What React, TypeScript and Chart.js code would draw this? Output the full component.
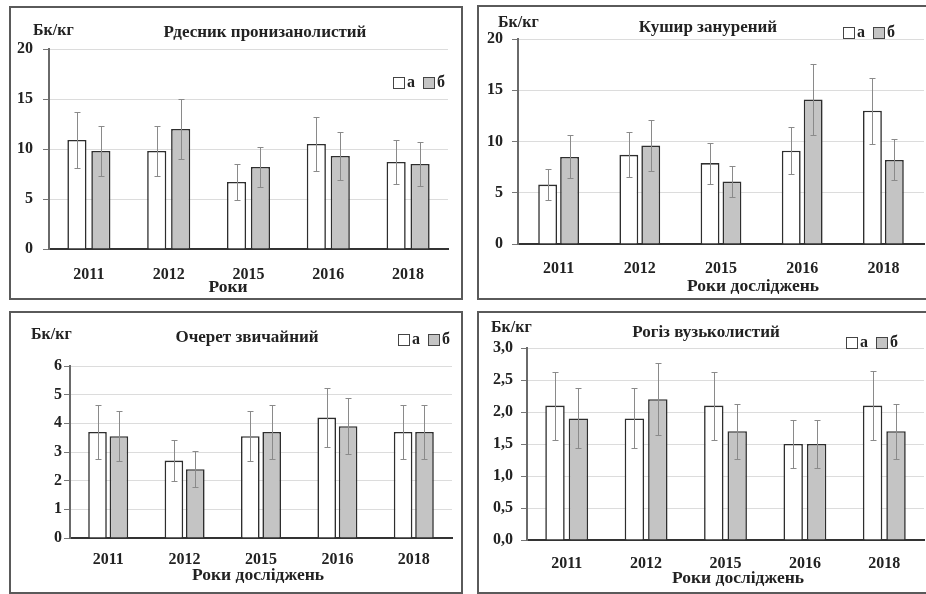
import { useEffect, useRef } from 'react';
import { Chart, registerables } from 'chart.js';

Chart.register(...registerables);

// ---------- DATA ----------
const years = ['2011', '2012', '2015', '2016', '2018'];
const seriesLabels = ['а', 'б'];

const rdesnykA = [10.9, 9.8, 6.7, 10.5, 8.7];
const rdesnykAErr = [2.8, 2.5, 1.8, 2.7, 2.2];
const rdesnykB = [9.8, 12.0, 8.2, 9.3, 8.5];
const rdesnykBErr = [2.5, 3.0, 2.0, 2.4, 2.2];

const kushyrA = [5.8, 8.7, 7.9, 9.1, 13.0];
const kushyrAErr = [1.5, 2.2, 2.0, 2.3, 3.2];
const kushyrB = [8.5, 9.6, 6.1, 14.1, 8.2];
const kushyrBErr = [2.1, 2.45, 1.5, 3.5, 2.0];

const ocheretA = [3.7, 2.7, 3.55, 4.2, 3.7];
const ocheretAErr = [0.93, 0.71, 0.87, 1.03, 0.93];
const ocheretB = [3.55, 2.4, 3.7, 3.9, 3.7];
const ocheretBErr = [0.87, 0.62, 0.93, 0.98, 0.93];

const rogizA = [2.1, 1.9, 2.1, 1.5, 2.1];
const rogizAErr = [0.53, 0.47, 0.53, 0.38, 0.54];
const rogizB = [1.9, 2.2, 1.7, 1.5, 1.7];
const rogizBErr = [0.47, 0.56, 0.43, 0.38, 0.43];

const titles = ['Рдесник пронизанолистий', 'Кушир занурений', 'Очерет звичайний', 'Рогіз вузьколистий'];
const unitLabel = 'Бк/кг';
const xTitles = ['Роки', 'Роки досліджень', 'Роки досліджень', 'Роки досліджень'];
const yMaxes = [20, 20, 6, 3];
const ySteps = [5, 5, 1, 0.5];

// ---------- STYLE / LAYOUT ----------
const FAM = "'Liberation Serif', 'Times New Roman', serif";
const W = 926;
const H = 594;
const WHITE = '#ffffff';
const GRAY = '#c4c4c4';
const EDGE = '#2e2e2e';

type Layout = {
  area: { L: number; T: number; R: number; B: number };
  frame: { left: number; top: number; width: number; height: number };
  cat: number;
  bar: number;
  yPad: number;
  xPad: number;
  title: { x: number; y: number };
  unit: { x: number; y: number };
  legend: { x: number; y: number };
  xTitle: { x: number; y: number };
  comma: boolean;
};

const layouts: Layout[] = [
  {
    area: { L: 49, T: 49, R: 448, B: 249 },
    frame: { left: 9, top: 6, width: 454, height: 294 },
    cat: 0.6, bar: 0.8, yPad: 10, xPad: 16,
    title: { x: 265, y: 33 }, unit: { x: 33, y: 31 }, legend: { x: 393, y: 83 },
    xTitle: { x: 228, y: 287 }, comma: false,
  },
  {
    area: { L: 518, T: 39, R: 924, B: 244 },
    frame: { left: 477, top: 5, width: 452, height: 295 },
    cat: 0.54, bar: 0.86, yPad: 9, xPad: 15,
    title: { x: 708, y: 28 }, unit: { x: 498, y: 23 }, legend: { x: 843, y: 33 },
    xTitle: { x: 753, y: 286 }, comma: false,
  },
  {
    area: { L: 70, T: 366, R: 452, B: 538 },
    frame: { left: 9, top: 311, width: 454, height: 283 },
    cat: 0.56, bar: 0.87, yPad: 2, xPad: 12,
    title: { x: 247, y: 338 }, unit: { x: 31, y: 335 }, legend: { x: 398, y: 340 },
    xTitle: { x: 258, y: 575 }, comma: false,
  },
  {
    area: { L: 527, T: 348, R: 924, B: 540 },
    frame: { left: 477, top: 311, width: 452, height: 283 },
    cat: 0.59, bar: 0.83, yPad: 8, xPad: 14,
    title: { x: 706, y: 333 }, unit: { x: 491, y: 328 }, legend: { x: 846, y: 343 },
    xTitle: { x: 738, y: 578 }, comma: true,
  },
];

const panelSeries = [
  [rdesnykA, rdesnykAErr, rdesnykB, rdesnykBErr],
  [kushyrA, kushyrAErr, kushyrB, kushyrBErr],
  [ocheretA, ocheretAErr, ocheretB, ocheretBErr],
  [rogizA, rogizAErr, rogizB, rogizBErr],
];

const Y_W = 40;
const X_H = 30;

const decorPlugin = {
  id: 'decor',
  afterDatasetsDraw(chart: any) {
    const ctx = chart.ctx;
    const ys = chart.scales.y;
    chart.data.datasets.forEach((ds: any, i: number) => {
      const meta = chart.getDatasetMeta(i);
      meta.data.forEach((bar: any, j: number) => {
        const v = ds.data[j];
        const e = ds.errors[j];
        const x = Math.round(bar.x) + 0.5;
        const yt = Math.round(ys.getPixelForValue(v + e)) + 0.5;
        const yb = Math.round(ys.getPixelForValue(v - e)) + 0.5;
        ctx.save();
        ctx.strokeStyle = '#8a8a8a';
        ctx.lineWidth = 1;
        ctx.beginPath();
        ctx.moveTo(x, yt);
        ctx.lineTo(x, yb);
        ctx.moveTo(x - 3, yt);
        ctx.lineTo(x + 3, yt);
        ctx.moveTo(x - 3, yb);
        ctx.lineTo(x + 3, yb);
        ctx.stroke();
        ctx.restore();
      });
    });
  },
  afterDraw(chart: any) {
    const o = chart.options.plugins.decor;
    const ctx = chart.ctx;
    ctx.save();
    ctx.fillStyle = '#222';
    ctx.textBaseline = 'middle';
    // title
    ctx.font = `bold 17px ${FAM}`;
    ctx.textAlign = 'center';
    ctx.fillText(o.titleText, o.titleX, o.titleY);
    // x title
    ctx.font = `bold 17.5px ${FAM}`;
    ctx.fillText(o.xTitleText, o.xTitleX, o.xTitleY);
    // unit
    ctx.font = `bold 16px ${FAM}`;
    ctx.textAlign = 'left';
    ctx.fillText(o.unitText, o.unitX, o.unitY);
    // legend
    ctx.font = `bold 16px ${FAM}`;
    let lx = o.legendX;
    const ly = o.legendY;
    chart.data.datasets.forEach((ds: any) => {
      ctx.fillStyle = ds.backgroundColor;
      ctx.fillRect(lx + 0.5, ly - 5.5, 11, 11);
      ctx.strokeStyle = '#444';
      ctx.lineWidth = 1;
      ctx.strokeRect(lx + 0.5, ly - 5.5, 11, 11);
      ctx.fillStyle = '#222';
      ctx.fillText(ds.label, lx + 14, ly);
      lx += 14 + ctx.measureText(ds.label).width + 8;
    });
    ctx.restore();
  },
};

function Panel({ idx }: { idx: number }) {
  const ref = useRef<HTMLCanvasElement | null>(null);
  useEffect(() => {
    const lay = layouts[idx];
    const [a, aErr, b, bErr] = panelSeries[idx];
    const { L, T, R, B } = lay.area;
    const chart = new Chart(ref.current as HTMLCanvasElement, {
      type: 'bar',
      data: {
        labels: years,
        datasets: [
          {
            label: seriesLabels[0], data: a, errors: aErr,
            backgroundColor: WHITE, borderColor: EDGE, borderWidth: 1.6,
            categoryPercentage: lay.cat, barPercentage: lay.bar,
          } as any,
          {
            label: seriesLabels[1], data: b, errors: bErr,
            backgroundColor: GRAY, borderColor: EDGE, borderWidth: 1.6,
            categoryPercentage: lay.cat, barPercentage: lay.bar,
          } as any,
        ],
      },
      options: {
        responsive: false,
        animation: false,
        events: [],
        layout: {
          padding: { left: L - Y_W, top: T, right: W - R, bottom: H - B - X_H },
        },
        plugins: {
          legend: { display: false },
          title: { display: false },
          tooltip: { enabled: false },
          decor: {
            titleText: titles[idx], titleX: lay.title.x, titleY: lay.title.y,
            xTitleText: xTitles[idx], xTitleX: lay.xTitle.x, xTitleY: lay.xTitle.y,
            unitText: unitLabel, unitX: lay.unit.x, unitY: lay.unit.y,
            legendX: lay.legend.x, legendY: lay.legend.y,
          },
        } as any,
        scales: {
          x: {
            afterFit: (s: any) => { s.height = X_H; },
            grid: { display: false, drawTicks: false },
            border: { display: true, color: '#333', width: 2 },
            ticks: {
              color: '#222', padding: lay.xPad,
              font: { family: FAM, size: 16, weight: 'bold' },
            },
          },
          y: {
            min: 0,
            max: yMaxes[idx],
            afterFit: (s: any) => { s.width = Y_W; },
            grid: { color: '#dcdcdc', lineWidth: 1, drawTicks: true, tickLength: 6, tickColor: '#777' },
            border: { display: true, color: '#6a6a6a', width: 2 },
            ticks: {
              stepSize: ySteps[idx],
              color: '#222',
              padding: lay.yPad,
              font: { family: FAM, size: 16, weight: 'bold' },
              callback: (v: any) => (lay.comma ? Number(v).toFixed(1).replace('.', ',') : String(v)),
            },
          },
        },
      },
      plugins: [decorPlugin],
    } as any);
    return () => chart.destroy();
  }, [idx]);
  return (
    <canvas
      ref={ref}
      width={W}
      height={H}
      style={{ position: 'absolute', left: 0, top: 0, width: W, height: H }}
    />
  );
}

export default function App() {
  return (
    <div
      style={{
        position: 'fixed', left: 0, top: 0, width: W, height: H,
        background: '#fff', overflow: 'hidden',
      }}
    >
      {layouts.map((l, i) => (
        <div
          key={'f' + i}
          style={{
            position: 'absolute', left: l.frame.left, top: l.frame.top,
            width: l.frame.width, height: l.frame.height,
            border: '2px solid #5a5a5a', boxSizing: 'border-box',
          }}
        />
      ))}
      {layouts.map((_, i) => (
        <Panel key={i} idx={i} />
      ))}
    </div>
  );
}
